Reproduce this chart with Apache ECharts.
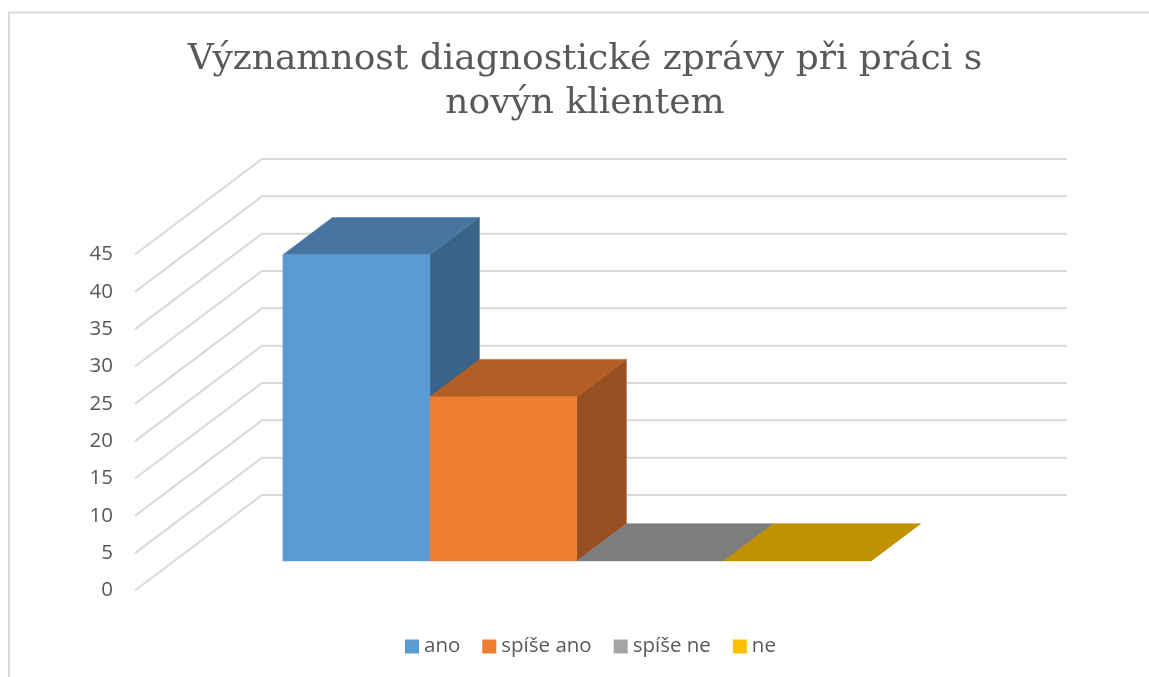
<!DOCTYPE html>
<html>
<head>
<meta charset="utf-8">
<title>Významnost diagnostické zprávy</title>
<style>
  html, body { margin: 0; padding: 0; background: #fff; }
  #chart { width: 1149px; height: 677px; }
</style>
<script src="https://cdn.jsdelivr.net/npm/echarts@6/dist/echarts.min.js"></script>
</head>
<body>
<div id="chart"></div>
<script>
const titleText = 'Významnost diagnostické zprávy při práci s\nnovýn klientem'
const categories = ['']
const seriesNames = ['ano', 'spíše ano', 'spíše ne', 'ne']
const seriesValues = [41, 22, 0, 0]
const yTicks = [0, 5, 10, 15, 20, 25, 30, 35, 40, 45]

const frontColors = ['#5B9BD5', '#ED7D31', '#A5A5A5', '#FFC000']
const topColors = ['#4675A1', '#B35E25', '#7D7D7D', '#C09100']
const sideColors = ['#3A6487', '#985023', '#6A6A6A', '#A37B00']

// fake 3d: how far the back wall sits from the front plane, in px
const depthX = 127
const depthY = -95.5
const barFront = 0.31   // share of the depth in front of the bars
const barBack = 0.70
const barShare = 0.1826 // one bar as share of the category width

const chart = echarts.init(document.getElementById('chart'))

function shift (pt, k) {
  return [pt[0] + depthX * k, pt[1] + depthY * k]
}

function face (points, color) {
  return {
    type: 'polygon',
    shape: { points: points },
    style: { fill: color, stroke: color, lineWidth: 0.5 }
  }
}

function renderWall (params, api) {
  const c = api.coord([0, api.value(1)])
  const w = api.size([1, 0])[0]
  const a = [c[0] - w / 2, c[1]]
  const b = shift(a, 1)
  return {
    type: 'polyline',
    shape: { points: [a, b, [b[0] + w, b[1]]] },
    style: { fill: null, stroke: '#d9d9d9', lineWidth: 2 }
  }
}

function barRenderer (idx) {
  return function (params, api) {
    const top = api.coord([0, api.value(1)])
    const base = api.coord([0, 0])
    const w = api.size([1, 0])[0] * barShare
    const x0 = top[0] - 2 * w + idx * w
    const bl = shift([x0, base[1]], barFront)
    const br = shift([x0 + w, base[1]], barFront)
    const tl = shift([x0, top[1]], barFront)
    const tr = shift([x0 + w, top[1]], barFront)
    const d = barBack - barFront
    const children = [
      face([tr, br, shift(br, d), shift(tr, d)], sideColors[idx]),
      face([tl, tr, shift(tr, d), shift(tl, d)], topColors[idx])
    ]
    if (api.value(1) > 0) {
      children.push(face([tl, tr, br, bl], frontColors[idx]))
    }
    return { type: 'group', children: children }
  }
}

const series = [{
  name: 'wall',
  type: 'custom',
  z: 1,
  silent: true,
  renderItem: renderWall,
  encode: { x: 0, y: 1 },
  data: yTicks.map(v => [0, v])
}]
seriesNames.forEach((name, i) => {
  series.push({
    name: name,
    type: 'custom',
    z: 2 + i,
    renderItem: barRenderer(i),
    encode: { x: 0, y: 1 },
    itemStyle: { color: frontColors[i] },
    data: [[0, seriesValues[i]]]
  })
})

const option = {
  animation: false,
  backgroundColor: '#fff',
  title: {
    text: titleText,
    left: 580,
    top: 33,
    textAlign: 'center',
    textStyle: {
      fontFamily: 'DejaVu Serif',
      fontSize: 36,
      fontWeight: 'normal',
      color: '#595959',
      lineHeight: 44
    }
  },
  legend: {
    data: seriesNames,
    left: 405,
    top: 636,
    padding: 0,
    icon: 'rect',
    itemWidth: 14,
    itemHeight: 14,
    itemGap: 22,
    selectedMode: false,
    textStyle: {
      fontFamily: 'Open Sans',
      fontSize: 20.5,
      color: '#595959'
    }
  },
  grid: {
    left: 135,
    right: 209,
    top: 254.5,
    bottom: 86.5
  },
  xAxis: {
    type: 'category',
    show: false,
    data: categories
  },
  yAxis: {
    type: 'value',
    min: 0,
    max: 45,
    interval: 5,
    axisLine: { show: false },
    axisTick: { show: false },
    splitLine: { show: false },
    axisLabel: {
      margin: 22,
      fontFamily: 'Open Sans',
      fontSize: 20.5,
      color: '#595959'
    }
  },
  graphic: [{
    type: 'rect',
    silent: true,
    shape: { x: 9, y: 12.5, width: 1200, height: 720 },
    style: { fill: null, stroke: '#d9d9d9', lineWidth: 2 }
  }],
  series: series
}
chart.setOption(option)
</script>
</body>
</html>
